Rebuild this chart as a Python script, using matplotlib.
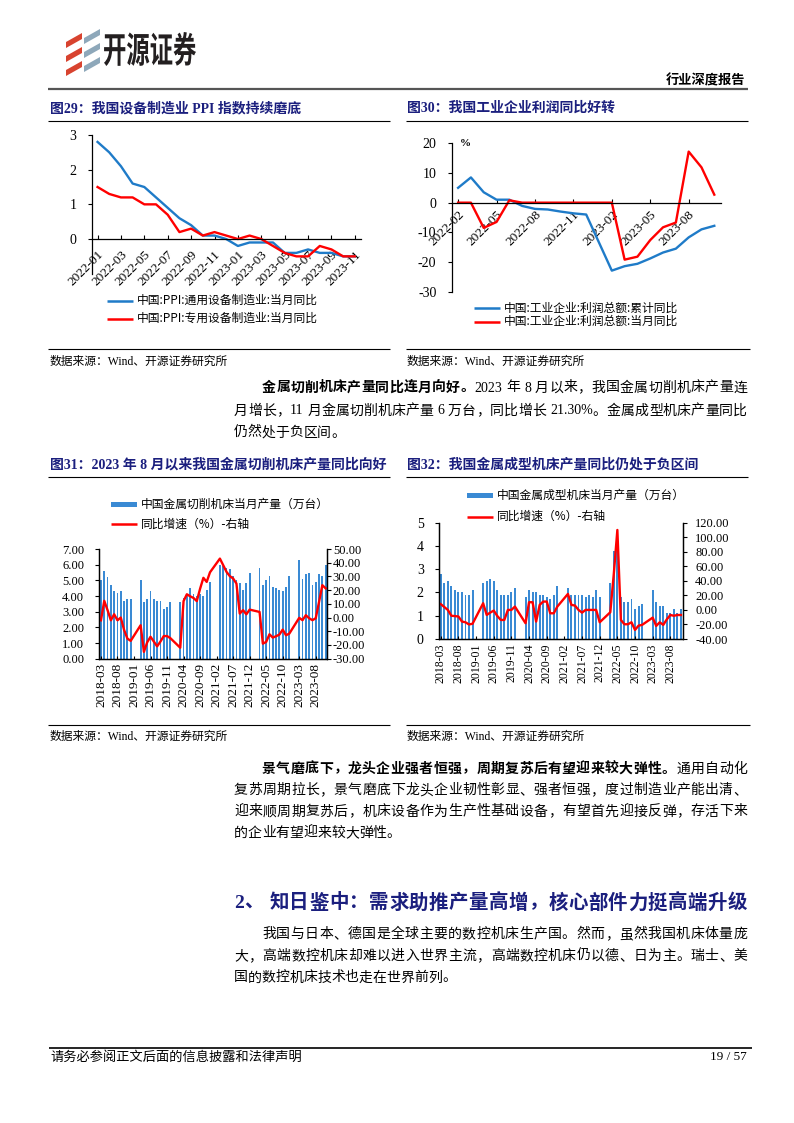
import numpy as np
import pandas as pd
import matplotlib
matplotlib.use("Agg")
import matplotlib.pyplot as plt
from matplotlib.patches import Polygon, Rectangle, PathPatch
from matplotlib.ticker import FormatStrFormatter
from matplotlib.textpath import TextPath
from matplotlib.font_manager import FontProperties
from matplotlib.transforms import Affine2D

W, H = 794, 1123
SERIF = ["Liberation Serif", "Noto Sans CJK SC"]
SANS = ["Noto Sans CJK SC", "DejaVu Sans"]
NAVY = "#1b1f7e"
LINE_BLUE = "#1f7bc8"
BAR_BLUE = "#3a8ad4"
RED = "#ff0000"

plt.rcParams["font.family"] = SERIF
plt.rcParams["axes.unicode_minus"] = False
plt.rcParams["axes.linewidth"] = 0.9

nan = np.nan

# ---------- 图29 PPI
ppi_months = [p.strftime("%Y-%m") for p in pd.period_range("2022-01", "2023-11", freq="M")]
ppi_general = [2.8, 2.5, 2.1, 1.6, 1.5, 1.2, 0.9, 0.6, 0.4, 0.1, 0.1, 0.0,
               -0.2, -0.1, -0.1, -0.1, -0.4, -0.4, -0.3, -0.4, -0.4, -0.5, -0.5]
ppi_special = [1.5, 1.3, 1.2, 1.2, 1.0, 1.0, 0.7, 0.2, 0.3, 0.1, 0.2, 0.1,
               0.0, 0.1, 0.0, -0.2, -0.4, -0.5, -0.5, -0.2, -0.3, -0.5, -0.5]

# ---------- 图30 工业企业利润
profit_months = [p.strftime("%Y-%m") for p in pd.period_range("2022-02", "2023-10", freq="M")]
profit_cum = [5.0, 8.5, 3.5, 1.0, 1.0, -1.1, -2.1, -2.3, -3.0, -3.6, -4.0, nan,
              -22.9, -21.4, -20.6, -18.8, -16.8, -15.5, -11.7, -9.0, -7.8]
profit_mon = [0, 0, -8.5, -6.5, 0.8, 0, 0, 0, 0, 0, 0, 0,
              0, -19.2, -18.2, -12.6, -8.3, -6.7, 17.2, 11.9, 2.7]

# ---------- 图31 / 图32 机床
tool_months = [p.strftime("%Y-%m") for p in pd.period_range("2018-03", "2023-11", freq="M")]
cutting_output = [5.0, 5.6, 5.2, 4.7, 4.3, 4.2, 4.3, 3.7, 3.8, 3.8,
                  nan, nan, 5.0, 3.6, 3.8, 4.3, 3.8, 3.7, 3.7, 3.2, 3.3, 3.6,
                  nan, nan, 3.6, 3.9, 4.0, 4.5, 4.1, 4.0, 4.1, 4.0, 4.4, 4.9,
                  nan, nan, 6.0, 5.9, 5.8, 5.7, 5.3, 5.0, 4.8, 4.4, 4.8, 5.5,
                  nan, nan, 5.8, 4.7, 5.0, 5.3, 4.55, 4.5, 4.4, 4.3, 4.6, 5.3,
                  nan, nan, 6.3, 5.1, 5.4, 5.45, 4.7, 4.9, 5.4, 5.3, 6.0]
cutting_yoy = [-2, 12.2, 5.4, -2, 2.4, -2, 0, -9, -15.3, -17,
               nan, nan, -5.6, -25, -18, -14, -17.5, -21, -17.5, -13.5, -13.5, -15,
               nan, nan, -22, 12, 17, 15.5, 14.3, 12, 21, 29, 26, 33,
               nan, nan, 43, 38.2, 33.3, 30.2, 28.5, 24.8, 2.9, 5.4, 2.4, 5.8,
               nan, nan, 4.1, -19, -17.8, -12.2, -14.6, -13.6, -12.4, -8.8, -12.9, -11.7,
               nan, nan, -0.2, -1.9, 1.7, -0.5, -1.9, -0.5, 11.4, 23.6, 21.3]
forming_output = [2.8, 2.4, 2.5, 2.3, 2.1, 2.0, 2.0, 1.9, 1.9, 2.1,
                  nan, nan, 2.4, 2.5, 2.6, 2.5, 2.1, 1.9, 1.9, 1.9, 2.0, 2.2,
                  nan, nan, 1.8, 2.1, 2.0, 2.0, 1.9, 1.9, 1.8, 1.7, 1.9, 2.3,
                  nan, nan, 2.2, 1.9, 1.9, 1.9, 1.9, 1.8, 1.9, 1.8, 2.1, 1.8,
                  nan, nan, 2.4, 3.8, 4.3, 1.8, 1.6, 1.6, 1.7, 1.3, 1.4, 1.5,
                  nan, nan, 2.1, 1.6, 1.4, 1.4, 1.1, 1.1, 1.3, 1.1, 1.3]
forming_yoy = [8, 4, 0, -8, -8.5, -9, -16, -17, -20, -19,
               nan, nan, 9.2, -6.9, -3.7, -0.9, -8.3, -13.8, -13.8, 0, 0, 4.6,
               nan, nan, -18.3, 10.6, 10.6, -16, 6.9, 11.5, 11.5, -4.6, -4.6, 4.6,
               nan, nan, 22, 6.9, 6, 0, -3.7, 0, 0, 0, 0, -17,
               nan, nan, -3.2, 50, 110, -13.8, -19.7, -19.7, -17, -27.5, -21.6, -20.6,
               nan, nan, -10.6, -22, -17, -20.6, -13, -7, -8, -7, -7]

fig = plt.figure(figsize=(W / 100, H / 100), dpi=100)
page = fig.add_axes([0, 0, 1, 1])
page.set_xlim(0, W)
page.set_ylim(H, 0)
page.set_autoscale_on(False)
page.axis("off")
renderer = fig.canvas.get_renderer()


def box(x0, y0, x1, y1):
    return fig.add_axes([x0 / W, 1 - y1 / H, (x1 - x0) / W, (y1 - y0) / H])


def rule(x0, x1, y, lw=0.8, color="black"):
    page.plot([x0, x1], [y, y], color=color, lw=lw, solid_capstyle="butt")


def tokens(s):
    out, buf = [], ""
    for ch in s:
        if ord(ch) < 128 and ch != " ":
            buf += ch
            continue
        if buf:
            out.append(buf)
            buf = ""
        out.append(ch)
    if buf:
        out.append(buf)
    return out


def text_line(runs, x0, y, x1=None, size=10, color="black"):
    objs, widths = [], []
    for txt, bold in runs:
        for tk in tokens(txt):
            if tk == " ":
                objs.append(None)
                widths.append(size * 100 / 72 * 0.25)
                continue
            t = page.text(0, y, tk, fontsize=size, color=color, va="center", ha="left",
                          fontweight="bold" if bold else "normal")
            objs.append(t)
            widths.append(t.get_window_extent(renderer).width)
    gap = 0 if x1 is None else (x1 - x0 - sum(widths)) / (len(objs) - 1)
    x = x0
    for t, w in zip(objs, widths):
        if t is not None:
            t.set_x(x)
        x += w + gap


def legend_line(x, y, label, color, size=8.5):
    page.plot([x, x + 26], [y, y], color=color, lw=1.8, solid_capstyle="butt")
    page.text(x + 30, y, label, fontsize=size, family=SANS, va="center")


def legend_bar(x, y, label):
    page.add_patch(Rectangle((x, y - 2.5), 26, 5, color=BAR_BLUE, lw=0))
    page.text(x + 30, y, label, fontsize=8.5, family=SANS, va="center")


def connect(ax, xs, ys, **kw):
    ys = np.asarray(ys, dtype=float)
    m = ~np.isnan(ys)
    ax.plot(np.asarray(xs)[m], ys[m], **kw)


# ---------- header
for i in range(3):
    y = 30 + i * 14
    page.add_patch(Polygon([(66, y + 12), (82, y + 3), (82, y + 9), (66, y + 18)], color="#d8432f", lw=0))
    page.add_patch(Polygon([(84, y + 8), (100, y - 1), (100, y + 5), (84, y + 14)], color="#8ea8ba", lw=0))
logo = TextPath((0, 0), "开源证券", size=1, prop=FontProperties(family="Noto Sans CJK SC", weight="bold"))
bb = logo.get_extents()
lt = Affine2D().translate(-bb.x0, -bb.y0).scale(92 / bb.width, -34 / bb.height).translate(104, 66)
page.add_patch(PathPatch(logo, color="#231f20", lw=0, transform=lt + page.transData))
page.text(745, 80, "行业深度报告", fontsize=9.5, fontweight="bold", family=SANS, ha="right", va="center")
rule(48, 748, 89, lw=1.6, color="#555555")

# ---------- titles row 1
page.text(50, 108, "图29：我国设备制造业 PPI 指数持续磨底", fontsize=10, fontweight="bold", color=NAVY, va="center")
page.text(407, 108, "图30：我国工业企业利润同比好转", fontsize=10, fontweight="bold", color=NAVY, va="center")
rule(48, 390, 120.5)
rule(406, 748, 120.5)

# ---------- 图29
ax = box(91.7, 135, 360.7, 273.7)
x = np.arange(len(ppi_months))
ax.plot(x, ppi_general, color=LINE_BLUE, lw=1.7)
ax.plot(x, ppi_special, color=RED, lw=1.7)
ax.set_xlim(-0.5, len(x) - 0.5)
ax.set_ylim(-1, 3)
ax.set_yticks([0, 1, 2, 3])
ax.spines["bottom"].set_position(("data", 0))
ax.spines["top"].set_visible(False)
ax.spines["right"].set_visible(False)
ax.set_facecolor("none")
ax.set_xticks(x[::2])
ax.set_xticklabels(ppi_months[::2], rotation=45, ha="right", rotation_mode="anchor")
ax.tick_params(axis="x", direction="in", length=3, pad=7, labelsize=9.5)
ax.tick_params(axis="y", direction="out", length=3, pad=8, labelsize=10)
legend_line(107, 300.7, "中国:PPI:通用设备制造业:当月同比", LINE_BLUE)
legend_line(107, 318.7, "中国:PPI:专用设备制造业:当月同比", RED)

# ---------- 图30
ax = box(451.7, 143.3, 720.7, 291.7)
x = np.arange(len(profit_months))
connect(ax, x, profit_cum, color=LINE_BLUE, lw=1.7)
ax.plot(x, profit_mon, color=RED, lw=1.7)
ax.set_xlim(-0.5, len(x) - 0.5)
ax.set_ylim(-30, 20)
ax.set_yticks(range(-30, 21, 10))
ax.spines["bottom"].set_position(("data", 0))
ax.spines["top"].set_visible(False)
ax.spines["right"].set_visible(False)
ax.set_facecolor("none")
ax.set_xticks(x[::3])
ax.set_xticklabels(profit_months[::3], rotation=45, ha="right", rotation_mode="anchor")
ax.tick_params(axis="x", direction="in", length=3, pad=4, labelsize=9.5)
ax.tick_params(axis="y", direction="out", length=3, pad=8, labelsize=10)
ax.text(0.03, 1.0, "%", transform=ax.transAxes, fontsize=8, fontweight="bold", va="center")
legend_line(474, 308.3, "中国:工业企业:利润总额:累计同比", LINE_BLUE)
legend_line(474, 321.5, "中国:工业企业:利润总额:当月同比", RED)

# ---------- sources row 1
rule(48, 390, 349.3)
rule(406, 750, 349.3)
page.text(50, 361.5, "数据来源：Wind、开源证券研究所", fontsize=8.5, va="center")
page.text(407, 361.5, "数据来源：Wind、开源证券研究所", fontsize=8.5, va="center")

# ---------- paragraph 1
L, R, IND = 234, 747, 262
text_line([("金属切削机床产量同比连月向好。", True), ("2023 年 8 月以来，我国金属切削机床产量连", False)], IND, 388, R)
text_line([("月增长，11 月金属切削机床产量 6 万台，同比增长 21.30%。金属成型机床产量同比", False)], L, 411, R)
text_line([("仍然处于负区间。", False)], L, 433)

# ---------- titles row 2
page.text(50, 465, "图31：2023 年 8 月以来我国金属切削机床产量同比向好", fontsize=10, fontweight="bold", color=NAVY, va="center")
page.text(407, 465, "图32：我国金属成型机床产量同比仍处于负区间", fontsize=10, fontweight="bold", color=NAVY, va="center")
rule(48, 390, 476.5)
rule(406, 748, 476.5)


def tool_chart(pos, output, yoy, ylim_l, lticks, lfmt, ylim_r, rticks, dsize, lsize):
    ax = box(*pos)
    x = np.arange(len(tool_months))
    ax.bar(x, output, width=0.55, color=BAR_BLUE, lw=0)
    ax.set_xlim(-0.5, len(x) - 0.5)
    ax.set_ylim(*ylim_l)
    ax.set_yticks(lticks)
    ax.yaxis.set_major_formatter(FormatStrFormatter(lfmt))
    ax.set_xticks(x[::5])
    ax.set_xticklabels(tool_months[::5], rotation=90, ha="center", va="top")
    ax.tick_params(axis="x", direction="in", length=2, pad=3, labelsize=dsize)
    ax.tick_params(axis="y", direction="out", length=3, pad=8, labelsize=lsize)
    ax.spines["top"].set_visible(False)
    ax.set_facecolor("none")
    ax2 = ax.twinx()
    connect(ax2, x, yoy, color=RED, lw=1.7)
    ax2.set_ylim(*ylim_r)
    ax2.set_yticks(rticks)
    ax2.yaxis.set_major_formatter(FormatStrFormatter("%.2f"))
    ax2.tick_params(axis="y", direction="out", length=3, pad=1, labelsize=9)
    ax2.spines["top"].set_visible(False)
    return ax, ax2


tool_chart((99.3, 549, 327.3, 658.7), cutting_output, cutting_yoy, (0, 7), range(0, 8), "%.2f",
           (-30, 50), range(-30, 51, 10), 9.5, 9)
legend_bar(111, 504, "中国金属切削机床当月产量（万台）")
legend_line(111, 524.3, "同比增速（%）-右轴", RED)

ax, ax2 = tool_chart((439, 522.7, 682.7, 639), forming_output, forming_yoy, (0, 5), range(0, 6), "%d",
                     (-40, 120), range(-40, 121, 20), 8.5, 10)
ax2.tick_params(axis="y", pad=6)
legend_bar(467, 495.7, "中国金属成型机床当月产量（万台）")
legend_line(467, 516.7, "同比增速（%）-右轴", RED)

rule(48, 390, 725)
rule(406, 750, 725)
page.text(50, 737, "数据来源：Wind、开源证券研究所", fontsize=8.5, va="center")
page.text(407, 737, "数据来源：Wind、开源证券研究所", fontsize=8.5, va="center")

# ---------- paragraph 2
text_line([("景气磨底下，龙头企业强者恒强，周期复苏后有望迎来较大弹性。", True), ("通用自动化", False)], IND, 769, R)
text_line([("复苏周期拉长，景气磨底下龙头企业韧性彰显、强者恒强，度过制造业产能出清、", False)], L, 790.5, R)
text_line([("迎来顺周期复苏后，机床设备作为生产性基础设备，有望首先迎接反弹，存活下来", False)], L, 812, R)
text_line([("的企业有望迎来较大弹性。", False)], L, 833.5)

# ---------- section heading
text_line([("2、 知日鉴中：需求助推产量高增，核心部件力挺高端升级", True)], L, 903, R, size=14, color=NAVY)

# ---------- paragraph 3
text_line([("我国与日本、德国是全球主要的数控机床生产国。然而，虽然我国机床体量庞", False)], IND, 934.5, R)
text_line([("大，高端数控机床却难以进入世界主流，高端数控机床仍以德、日为主。瑞士、美", False)], L, 956.5, R)
text_line([("国的数控机床技术也走在世界前列。", False)], L, 978)

# ---------- footer
rule(49, 752, 1048, lw=1.2)
page.text(50, 1057.5, "请务必参阅正文后面的信息披露和法律声明", fontsize=9.5, va="center")
page.text(747, 1057.5, "19 / 57", fontsize=9.5, va="center", ha="right")

fig.savefig("out.png", dpi=100)
